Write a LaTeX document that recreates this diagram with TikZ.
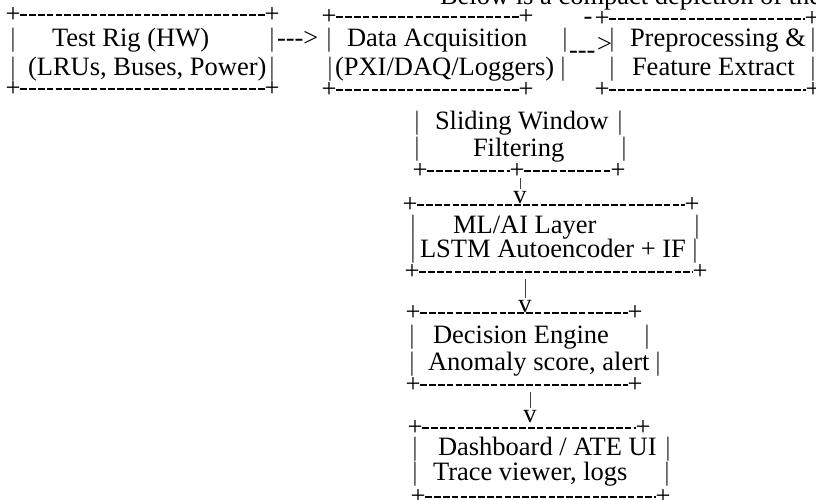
\documentclass[tikz,border=0pt]{standalone}
\usepackage{fontspec}
\setmainfont{Liberation Serif}[Ligatures=TeXOff]
\newcommand\fsz{\fontsize{26.5}{30}\selectfont}
\begin{document}
\begin{tikzpicture}[x=1pt,y=-1pt,
  txt/.style={inner sep=0pt, outer sep=0pt, anchor=base west, font=\fsz},
  vbar/.style={inner sep=0pt, outer sep=0pt, anchor=base, font=\fsz, text=black!80},
  crn/.style={inner sep=0pt, outer sep=0pt, anchor=center, font=\fsz},
  arr/.style={inner sep=0pt, outer sep=0pt, anchor=base, font=\fsz},
  hline/.style={line width=1.35pt, dash pattern=on 6.5pt off 2.3pt},
  vline/.style={line width=0.9pt, black!75}]
\useasboundingbox (0,0) rectangle (816,500);
\clip (0,0) rectangle (816,500);
\fill[white] (0,0) rectangle (816,500);

% title
\node[txt] (title) at (440,5) {Below is a compact depiction of the};

% ---------- Box 1: Test Rig
\node[crn] (a-tl) at (13,15) {+};
\node[crn] (a-tr) at (272,15) {+};
\draw[hline] (a-tl.east) -- (a-tr.west);
\node[vbar] (a-l1) at (13,47) {|};
\node[vbar] (a-r1) at (272,47) {|};
\node[vbar] (a-l2) at (13,76) {|};
\node[vbar] (a-r2) at (272,76) {|};
\node[txt] (a-t1) at (52,47) {Test Rig (HW)};
\node[txt] (a-t2) at (28,76) {(LRUs, Buses, Power)};
\node[crn] (a-bl) at (13,89) {+};
\node[crn] (a-br) at (272,89) {+};
\draw[hline] (a-bl.east) -- (a-br.west);

% connector 1
\node[txt] (c1) at (277,47) {--->};

% ---------- Box 2: Data Acquisition
\node[crn] (b-tl) at (329,17) {+};
\node[crn] (b-tr) at (526,17) {+};
\draw[hline] (b-tl.east) -- (b-tr.west);
\node[vbar] (b-l1) at (329,47) {|};
\node[vbar] (b-r1) at (565,47) {|};
\node[vbar] (b-l2) at (330,76) {|};
\node[vbar] (b-r2) at (563,76) {|};
\node[txt] (b-t1) at (347,47) {Data Acquisition};
\node[txt] (b-t2) at (335,76) {(PXI/DAQ/Loggers)};
\node[crn] (b-bl) at (329,90) {+};
\node[crn] (b-br) at (526,90) {+};
\draw[hline] (b-bl.east) -- (b-br.west);

% connector 2
\node[txt] (c2a) at (569,59) {---};
\node[txt] (c2b) at (597,53) {>};

% ---------- Box 3: Preprocessing
\node[arr] (c-dash) at (588,25) {-};
\node[crn] (c-tl) at (602,19) {+};
\node[crn] (c-tr) at (812,19) {+};
\draw[hline] (c-tl.east) -- (c-tr.west);
\node[vbar] (c-l1) at (612,47) {|};
\node[vbar] (c-r1) at (813,47) {|};
\node[vbar] (c-l2) at (612,76) {|};
\node[vbar] (c-r2) at (813,76) {|};
\node[txt] (c-t1) at (630,47) {Preprocessing \&};
\node[txt] (c-t2) at (632,76) {Feature Extract};
\node[crn] (c-bl) at (602,90) {+};
\node[crn] (c-br) at (813,90) {+};
\draw[hline] (c-bl.east) -- (c-br.west);

% ---------- Sliding Window
\node[vbar] (s-l1) at (417,130) {|};
\node[vbar] (s-r1) at (620,130) {|};
\node[vbar] (s-l2) at (417,155) {|};
\node[vbar] (s-r2) at (624,155) {|};
\node[txt] (s-t1) at (435,130) {Sliding Window};
\node[txt] (s-t2) at (473,156) {Filtering};
\node[crn] (s-bl) at (420,171) {+};
\node[crn] (s-bm) at (517,171) {+};
\node[crn] (s-br) at (618,171) {+};
\draw[hline] (s-bl.east) -- (s-bm.west);
\draw[hline] (s-bm.east) -- (s-br.west);

\node[arr] (v1) at (520,203) {v};
\draw[vline] (s-bm.south -| v1.north) -- ([yshift=2pt]v1.north);

% ---------- ML/AI Layer
\node[crn] (m-tl) at (410,205) {+};
\node[crn] (m-tr) at (692,205) {+};
\draw[hline] (m-tl.east) -- (m-tr.west);
\node[vbar] (m-l1) at (413,233) {|};
\node[vbar] (m-r1) at (697,233) {|};
\node[vbar] (m-l2) at (413,257) {|};
\node[vbar] (m-r2) at (695,257) {|};
\node[txt] (m-t1) at (453,233) {ML/AI Layer};
\node[txt] (m-t2) at (420,257) {LSTM Autoencoder + IF};
\node[crn] (m-bl) at (412,272) {+};
\node[crn] (m-br) at (700,272) {+};
\draw[hline] (m-bl.east) -- (m-br.west);

\coordinate (m-out) at (525,279);
\node[arr] (v2) at (525,312) {v};
\draw[vline] (m-out) -- ([yshift=2pt]v2.north);

% ---------- Decision Engine
\node[crn] (d-tl) at (413,313) {+};
\node[crn] (d-tr) at (635,313) {+};
\draw[hline] (d-tl.east) -- (d-tr.west);
\node[vbar] (d-l1) at (412,343) {|};
\node[vbar] (d-r1) at (647,343) {|};
\node[vbar] (d-l2) at (412,370) {|};
\node[vbar] (d-r2) at (658,370) {|};
\node[txt] (d-t1) at (433,343) {Decision Engine};
\node[txt] (d-t2) at (428,370) {Anomaly score, alert};
\node[crn] (d-bl) at (413,385) {+};
\node[crn] (d-br) at (635,385) {+};
\draw[hline] (d-bl.east) -- (d-br.west);

\coordinate (d-out) at (530,392);
\node[arr] (v3) at (530,422) {v};
\draw[vline] (d-out) -- ([yshift=2pt]v3.north);

% ---------- Dashboard
\node[crn] (e-tl) at (415,428) {+};
\node[crn] (e-tr) at (643,428) {+};
\draw[hline] (e-tl.east) -- (e-tr.west);
\node[vbar] (e-l1) at (415,455) {|};
\node[vbar] (e-r1) at (668,455) {|};
\node[vbar] (e-l2) at (415,480) {|};
\node[vbar] (e-r2) at (667,480) {|};
\node[txt] (e-t1) at (438,455) {Dashboard / ATE UI};
\node[txt] (e-t2) at (433,480) {Trace viewer, logs};
\node[crn] (e-bl) at (418,497) {+};
\node[crn] (e-br) at (663,497) {+};
\draw[hline] (e-bl.east) -- (e-br.west);
\end{tikzpicture}
\end{document}
